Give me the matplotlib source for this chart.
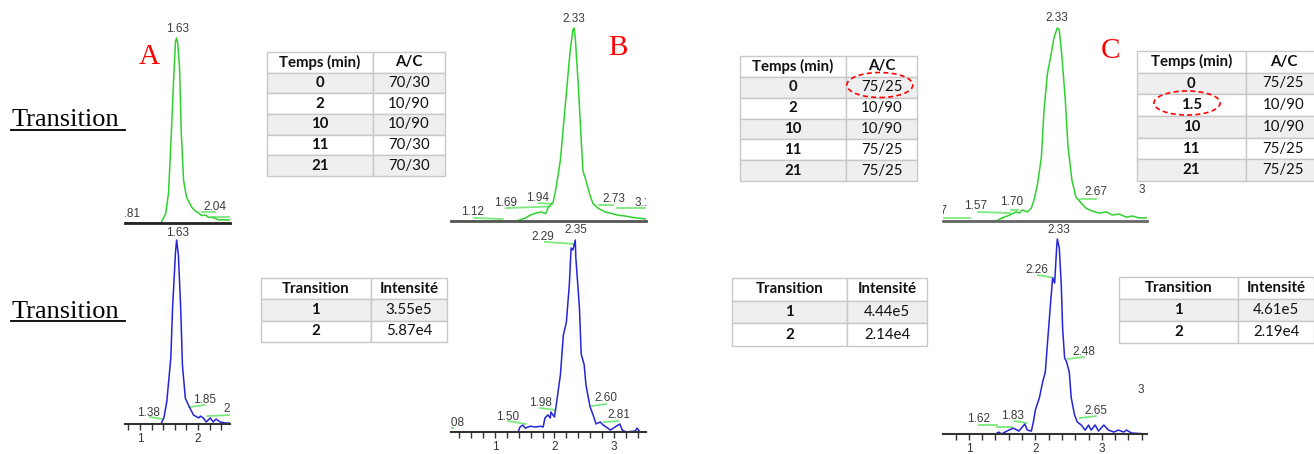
import matplotlib
matplotlib.use('Agg')
import matplotlib.pyplot as plt
from matplotlib.patches import Ellipse
from matplotlib.lines import Line2D
from matplotlib.ticker import MultipleLocator

W, H = 1314, 454

# ---- Chromatogrammes : temps (min) et intensité (% du pic) ----
tA_haut = [0.74, 1.36, 1.44, 1.49, 1.54, 1.58, 1.61, 1.63, 1.65, 1.68, 1.71, 1.75,
           1.80, 1.89, 1.97, 2.01, 2.06, 2.13, 2.18, 2.23, 2.30, 2.35, 2.45, 2.55]
iA_haut = [0, 0, 5, 16, 49, 79, 98, 100, 97, 84, 49, 23,
           14, 8.5, 6, 5.5, 4, 4.3, 3, 3.2, 2.5, 1.6, 1.8, 1.6]

tA_bas = [0.74, 1.36, 1.41, 1.46, 1.53, 1.56, 1.61, 1.63, 1.66, 1.70, 1.73, 1.78,
          1.85, 1.92, 2.01, 2.04, 2.09, 2.14, 2.21, 2.26, 2.31, 2.38, 2.48, 2.55]
iA_bas = [0, 0, 3.3, 12, 36, 63, 93, 100, 92, 63, 32, 14,
          9.2, 4.9, 3.3, 4.3, 3.3, 1.1, 3.3, 1.1, 2.7, 1.1, 0.5, 0.5]

tB_haut = [0.26, 1.36, 1.51, 1.59, 1.68, 1.78, 1.85, 1.89, 1.98, 2.03, 2.10, 2.15,
           2.20, 2.26, 2.31, 2.33, 2.35, 2.40, 2.45, 2.48, 2.53, 2.60, 2.65, 2.73,
           2.80, 2.85, 2.95, 3.07, 3.19, 3.29, 3.41, 3.54]
iB_haut = [0, 0, 1.5, 3, 4, 4.7, 3.8, 6.7, 10, 17.6, 31.6, 48.7,
           66, 87, 99, 100, 95, 71, 42, 26, 21, 13, 9, 6.7,
           5.5, 4.7, 4, 3, 2.6, 2, 1.5, 1]

tB_bas = [0.26, 1.39, 1.42, 1.47, 1.51, 1.59, 1.68, 1.76, 1.81, 1.84, 1.89, 1.93,
          1.94, 2.00, 2.03, 2.10, 2.15, 2.20, 2.25, 2.28, 2.31, 2.35, 2.36, 2.42,
          2.45, 2.50, 2.53, 2.60, 2.65, 2.70, 2.77, 2.82, 2.87, 2.94, 3.02, 3.10,
          3.14, 3.21, 3.36, 3.39, 3.44, 3.54]
iB_bas = [0, 0, 2.6, 3.6, 2, 3, 2.6, 3, 2.6, 7.3, 8.9, 7.3,
          10.4, 7.8, 14, 29.7, 50.5, 57, 76.6, 95.8, 94.8, 100, 90.6, 65,
          40.6, 35, 24.5, 13, 8.9, 4.2, 5.2, 3.6, 2.6, 1, 2.6, 4.2,
          1, 0, 0.5, 2, 0, 0]

tC_haut = [0.61, 1.41, 1.50, 1.61, 1.71, 1.76, 1.80, 1.88, 1.94, 1.98, 2.03, 2.09,
           2.13, 2.18, 2.24, 2.28, 2.33, 2.36, 2.40, 2.45, 2.49, 2.55, 2.61, 2.69,
           2.76, 2.85, 2.96, 3.07, 3.16, 3.26, 3.37, 3.46, 3.56, 3.68]
iC_haut = [0, 0, 1.6, 3, 4.7, 4.1, 5.7, 4.7, 6.7, 10.9, 18.6, 33,
           57, 76, 87, 95, 100, 99, 85, 63, 38.9, 21.2, 12.4, 9.3,
           6.7, 5.2, 4.1, 4.7, 3.1, 3.6, 2, 2.6, 1.6, 1.6]

tC_bas = [0.61, 1.40, 1.45, 1.49, 1.60, 1.67, 1.75, 1.79, 1.84, 1.88, 1.94, 1.97,
          2.00, 2.06, 2.11, 2.15, 2.18, 2.23, 2.26, 2.29, 2.32, 2.33, 2.36, 2.39,
          2.41, 2.44, 2.47, 2.51, 2.54, 2.59, 2.63, 2.69, 2.75, 2.80, 2.84, 2.90,
          2.95, 3.03, 3.10, 3.18, 3.25, 3.33, 3.37, 3.45, 3.68]
iC_bas = [0, 0, 1, 0, 2, 3, 1.5, 3, 5.1, 2, 1.5, 6.2,
          12.3, 18.5, 26.7, 31.8, 45.6, 67.7, 80, 77.4, 95.4, 100, 95.4, 76.4,
          54.4, 39, 37, 31.8, 18.5, 9.7, 6.2, 4.6, 2, 4.6, 2, 4.6,
          1.5, 4.6, 2, 1, 2, 1, 2, 0.5, 0]

# étiquettes des pics : (texte, temps, intensité, coupée au bord)
etiq_A_haut = [('1.63', 1.64, 105, False), ('0.81', 0.81, 4.9, True), ('2.04', 2.29, 8.6, False)]
etiq_A_bas = [('1.63', 1.64, 104, False), ('1.38', 1.15, 6, False), ('1.85', 2.11, 13, False),
              ('2.31', 2.64, 8.2, True)]
etiq_B_haut = [('2.33', 2.33, 104.7, False), ('1.12', 0.63, 4.7, False), ('1.69', 1.17, 9.3, False),
               ('1.94', 1.71, 11.9, False), ('2.73', 3.00, 11.4, False), ('3.15', 3.54, 9.3, True)]
etiq_B_bas = [('2.35', 2.36, 105, False), ('2.29', 1.81, 101.6, False), ('1.08', 0.29, 4.7, True),
              ('1.50', 1.22, 7.8, False), ('1.98', 1.76, 15.1, False), ('2.60', 2.87, 17.7, False),
              ('2.81', 3.08, 8.9, False)]
etiq_C_haut = [('2.33', 2.33, 105, False), ('1.17', 0.50, 5.2, True), ('1.57', 1.10, 7.8, False),
               ('1.70', 1.65, 9.8, False), ('2.67', 2.91, 15, False), ('3', 3.60, 16, False)]
etiq_C_bas = [('2.33', 2.35, 104.6, False), ('2.26', 2.02, 84, False), ('2.48', 2.73, 42, False),
              ('1.62', 1.14, 7.7, False), ('1.83', 1.66, 9.2, False), ('2.65', 2.91, 11.8, False),
              ('3', 3.59, 22.6, False)]

# traits verts sous les étiquettes : (t0, t1, i0, i1)
traits_A_haut = [(2.07, 2.29, 5.9, 5.9), (2.26, 2.55, 3.5, 3.5)]
traits_A_bas = [(1.17, 1.39, 3.8, 2.7), (1.85, 2.11, 9.2, 10.3), (2.16, 2.54, 4.3, 4.9)]
traits_B_haut = [(0.66, 1.13, 1.6, 1.0), (1.18, 1.92, 6.7, 7.5), (1.74, 1.97, 9.3, 8.8),
                 (2.75, 2.98, 8.3, 8.3), (3.05, 3.54, 6.7, 6.7)]
traits_B_bas = [(0.26, 0.29, 2.1, 2.1), (1.22, 1.52, 5.7, 4.2), (1.76, 2.01, 12.5, 11.5),
                (1.84, 2.31, 99, 98), (2.63, 2.87, 13.5, 14.6), (2.83, 3.07, 5.2, 5.7)]
traits_C_haut = [(0.61, 1.02, 1.6, 1.6), (1.14, 1.62, 4.7, 4.1), (1.63, 1.74, 5.7, 5.7),
                 (2.67, 2.91, 11.4, 11.4)]
traits_C_bas = [(2.04, 2.29, 81.5, 80), (2.49, 2.73, 38.5, 39.5), (1.15, 1.42, 4.6, 4.6),
                (1.42, 1.65, 3.6, 3.6), (1.69, 1.87, 6.7, 5.6), (2.67, 2.91, 8.2, 9.2)]

# ---- Tableaux ----
entete_gradient = ['Temps (min)', 'A/C']
temps_A = ['0', '2', '10', '11', '21']
ac_A = ['70/30', '10/90', '10/90', '70/30', '70/30']
temps_B = ['0', '2', '10', '11', '21']
ac_B = ['75/25', '10/90', '10/90', '75/25', '75/25']
temps_C = ['0', '1.5', '10', '11', '21']
ac_C = ['75/25', '10/90', '10/90', '75/25', '75/25']

entete_intens = ['Transition', 'Intensité']
transitions = ['1', '2']
intens_A = ['3.55e5', '5.87e4']
intens_B = ['4.44e5', '2.14e4']
intens_C = ['4.61e5', '2.19e4']

VERT = '#2fd12f'
BLEU = '#2424d8'
POLICE_LC = ['Liberation Sans', 'DejaVu Sans']

fig = plt.figure(figsize=(W / 100, H / 100), dpi=100)


def ajoute_axes(g, d, h, b):
    """ Axes placés en pixels (gauche, droite, haut, bas) """
    return fig.add_axes([g / W, 1 - b / H, (d - g) / W, (b - h) / H])


def chromato(boite, xlim, t, inten, couleur, etiquettes, traits, graduations, couleur_base):
    g, d, base, pic, haut = boite
    ax = ajoute_axes(g, d, haut, base)
    ax.patch.set_visible(False)
    ax.set_xlim(xlim)
    ax.set_ylim(0, (base - haut) / (base - pic) * 100)
    ax.plot(t, inten, color=couleur, lw=1.1, zorder=2)
    for t0, t1, i0, i1 in traits:
        ax.plot([t0, t1], [i0, i1], color='#7ee87e', lw=1.3, zorder=1.5)
    for txt, x, y, coupe in etiquettes:
        ax.text(x, y, txt, ha='center', va='center', fontsize=8.5, color='#3c3c3c',
                family=POLICE_LC, clip_on=coupe)
    for s in ['top', 'left', 'right']:
        ax.spines[s].set_visible(False)
    ax.spines['bottom'].set_color(couleur_base)
    ax.set_yticks([])
    if graduations:
        ax.spines['bottom'].set_linewidth(1.5)
        ax.xaxis.set_major_locator(MultipleLocator(1))
        ax.xaxis.set_minor_locator(MultipleLocator(0.2))
        ax.tick_params(which='both', direction='out', length=4, width=1, color='#333333',
                       labelsize=8.5, labelcolor='#333333', pad=2.5)
        for lab in ax.get_xticklabels():
            lab.set_family(POLICE_LC)
    else:
        ax.spines['bottom'].set_linewidth(2)
        ax.set_xticks([])
    return ax


def tableau(boite, entetes, col0, col1, frac0, fs=10.8):
    g, d, h, b = boite
    ax = ajoute_axes(g, d, h, b)
    ax.set_axis_off()
    cellules = [[a, c] for a, c in zip(col0, col1)]
    tb = ax.table(cellText=cellules, colLabels=entetes, cellLoc='center',
                  bbox=[0, 0, 1, 1], colWidths=[frac0, 1 - frac0])
    tb.auto_set_font_size(False)
    for (r, c), cell in tb.get_celld().items():
        cell.set_edgecolor('#c8c8c8')
        cell.set_linewidth(1)
        cell.set_facecolor('#efefef' if r % 2 == 1 else 'white')
        txt = cell.get_text()
        txt.set_fontsize(fs)
        txt.set_fontfamily(['Lato', 'DejaVu Sans'])
        txt.set_color('#111111')
        txt.set_fontweight('bold' if (r == 0 or c == 0) else 'normal')
    return ax


def ellipse(ax, cx, cy, w, h):
    ax.add_patch(Ellipse((cx, cy), w, h, transform=ax.transAxes, fill=False, ec='red',
                         ls=(0, (3, 2)), lw=1.2, clip_on=False))


# Chromatogrammes (boite = gauche, droite, ligne de base, sommet du pic, haut en pixels)
chromato((125, 230, 223, 38, 10), (0.74, 2.55), tA_haut, iA_haut, VERT,
         etiq_A_haut, traits_A_haut, False, '#222222')
chromato((125, 230, 424, 240, 228), (0.74, 2.55), tA_bas, iA_bas, BLEU,
         etiq_A_bas, traits_A_bas, True, '#333333')
chromato((451, 646, 221, 28, 10), (0.26, 3.54), tB_haut, iB_haut, VERT,
         etiq_B_haut, traits_B_haut, False, '#555555')
chromato((451, 646, 432, 240, 228), (0.26, 3.54), tB_bas, iB_bas, BLEU,
         etiq_B_bas, traits_B_bas, True, '#333333')
chromato((943, 1147, 221, 28, 10), (0.61, 3.68), tC_haut, iC_haut, VERT,
         etiq_C_haut, traits_C_haut, False, '#666666')
chromato((943, 1147, 434, 239, 228), (0.61, 3.68), tC_bas, iC_bas, BLEU,
         etiq_C_bas, traits_C_bas, True, '#333333')

# Tableaux
tableau((267, 445, 52, 176), entete_gradient, temps_A, ac_A, 0.596)
tableau((261, 447, 278, 342), entete_intens, transitions, intens_A, 0.59)
axB = tableau((740, 917, 56, 181), entete_gradient, temps_B, ac_B, 0.6)
tableau((732, 927, 278, 346), entete_intens, transitions, intens_B, 0.59)
axC = tableau((1137, 1321, 51, 181), entete_gradient, temps_C, ac_C, 0.59)
tableau((1119, 1314, 277, 343), entete_intens, transitions, intens_C, 0.61)

ellipse(axB, 0.79, 0.768, 0.373, 0.2)
ellipse(axC, 0.272, 0.6, 0.36, 0.185)

# Lettres et titres
for lettre, x, y in [('A', 149, 57), ('B', 618, 48), ('C', 1110, 51)]:
    fig.text(x / W, 1 - y / H, lettre, color='red', fontsize=21, ha='center', va='center',
             family=['Liberation Serif', 'DejaVu Serif'])

for yb, ys in [(126, 130), (318, 321)]:
    fig.text(12 / W, 1 - yb / H, 'Transition', fontsize=19, ha='left', va='baseline',
             family=['Liberation Serif', 'DejaVu Serif'], color='black')
    fig.add_artist(Line2D([11 / W, 125 / W], [1 - ys / H, 1 - ys / H], color='black',
                          lw=1.3, transform=fig.transFigure))

fig.savefig('out.png', dpi=100)
